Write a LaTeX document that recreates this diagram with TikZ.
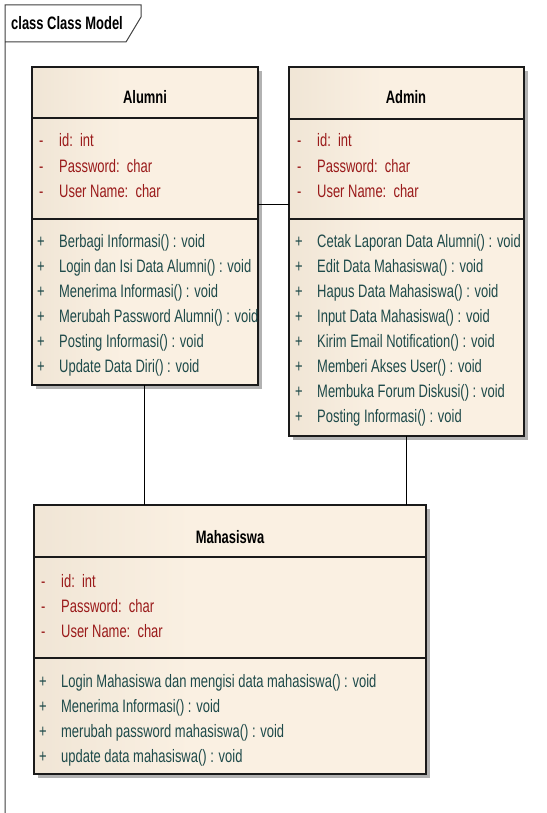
\documentclass[tikz,border=0pt]{standalone}
\usepackage{fontspec}
\setmainfont{Liberation Sans}[FakeStretch=0.72]
\usetikzlibrary{shadows}
\definecolor{clsA}{HTML}{E4D8C6}
\definecolor{clsB}{HTML}{FAF0E2}
\definecolor{attrC}{HTML}{9A1A1A}
\definecolor{methC}{HTML}{1E4A4A}
\definecolor{lineC}{HTML}{1A1A1A}
\pgfdeclarehorizontalshading{clsfill}{100bp}{color(0bp)=(clsA); color(45bp)=(clsB); color(100bp)=(clsB)}
\tikzset{
  cls/.style={rectangle, draw=lineC, line width=1.3pt, shading=clsfill, inner sep=0pt, outer sep=0pt, anchor=north west,
    drop shadow={shadow xshift=4pt, shadow yshift=-4pt, opacity=0.3, fill=black}},
  sepline/.style={draw=lineC, line width=1.3pt},
  txt/.style={inner sep=0pt, anchor=base west, font=\fontsize{18}{21}\selectfont},
  attr/.style={txt, text=attrC},
  meth/.style={txt, text=methC},
  ttl/.style={inner sep=0pt, anchor=base, font=\bfseries\fontsize{18}{21}\selectfont},
  conn/.style={draw=black, line width=1pt},
  framel/.style={draw=black!75, line width=1pt}
}
\begin{document}
\begin{tikzpicture}[x=1pt, y=-1pt]
\useasboundingbox[fill=white] (0,0) rectangle (546,813);
% frame
\draw[framel] (5,813) -- (5,5) -- (141,5) -- (141,17) -- (126,42) -- (5,42);
\node[inner sep=0pt, anchor=base west, font=\bfseries\fontsize{18}{21}\selectfont] (frametitle) at (11,30) {class Class Model};

% classes
\node[cls, minimum width=226pt, minimum height=318pt] (alumni) at (32,67) {};
\node[cls, minimum width=235pt, minimum height=369pt] (admin) at (289,67) {};
\node[cls, minimum width=392pt, minimum height=269pt] (maha) at (34,505) {};

% separators
\draw[sepline] (alumni.west |- 0,118) -- (alumni.east |- 0,118);
\draw[sepline] (alumni.west |- 0,219) -- (alumni.east |- 0,219);
\draw[sepline] (admin.west |- 0,119) -- (admin.east |- 0,119);
\draw[sepline] (admin.west |- 0,219) -- (admin.east |- 0,219);
\draw[sepline] (maha.west |- 0,557) -- (maha.east |- 0,557);
\draw[sepline] (maha.west |- 0,658) -- (maha.east |- 0,658);

% connectors
\draw[conn] (alumni.east |- 0,204) -- (admin.west |- 0,204);
\draw[conn] (alumni.south -| 144,0) -- (maha.north -| 144,0);
\draw[conn] (admin.south -| 406,0) -- (maha.north -| 406,0);

% Alumni
\node[ttl] (alumniT) at (145,104) {Alumni};
\foreach \y/\t [count=\i] in {147/{id:~~int}, 172/{Password:~~char}, 197/{User Name:~~char}} {
  \node[attr] (alA\i m) at (39,\y) {-};
  \node[attr] (alA\i) at (59,\y) {\t};
}
\foreach \y/\t [count=\i] in {247/{Berbagi Informasi() : void}, 272/{Login dan Isi Data Alumni() : void}, 297/{Menerima Informasi() : void}, 322/{Merubah Password Alumni() : void}, 347/{Posting Informasi() : void}, 372/{Update Data Diri() : void}} {
  \node[meth] (alM\i m) at (37,\y) {+};
  \node[meth] (alM\i) at (59,\y) {\t};
}

% Admin
\node[ttl] (adminT) at (406,104) {Admin};
\foreach \y/\t [count=\i] in {147/{id:~~int}, 172/{Password:~~char}, 197/{User Name:~~char}} {
  \node[attr] (adA\i m) at (297,\y) {-};
  \node[attr] (adA\i) at (317,\y) {\t};
}
\foreach \y/\t [count=\i] in {247/{Cetak Laporan Data Alumni() : void}, 272/{Edit Data Mahasiswa() : void}, 297/{Hapus Data Mahasiswa() : void}, 322/{Input Data Mahasiswa() : void}, 347/{Kirim Email Notification() : void}, 372/{Memberi Akses User() : void}, 397/{Membuka Forum Diskusi() : void}, 422/{Posting Informasi() : void}} {
  \node[meth] (adM\i m) at (295,\y) {+};
  \node[meth] (adM\i) at (317,\y) {\t};
}

% Mahasiswa
\node[ttl] (mahaT) at (230,543) {Mahasiswa};
\foreach \y/\t [count=\i] in {587/{id:~~int}, 612/{Password:~~char}, 637/{User Name:~~char}} {
  \node[attr] (maA\i m) at (41,\y) {-};
  \node[attr] (maA\i) at (61,\y) {\t};
}
\foreach \y/\t [count=\i] in {687/{Login Mahasiswa dan mengisi data mahasiswa() : void}, 712/{Menerima Informasi() : void}, 737/{merubah password mahasiswa() : void}, 762/{update data mahasiswa() : void}} {
  \node[meth] (maM\i m) at (39,\y) {+};
  \node[meth] (maM\i) at (61,\y) {\t};
}
\end{tikzpicture}
\end{document}
